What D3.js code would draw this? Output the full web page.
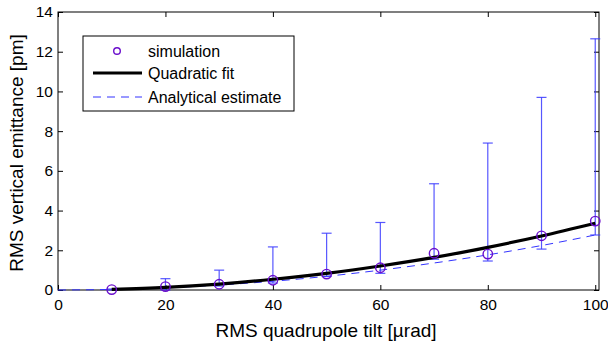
<!DOCTYPE html>
<html>
<head>
<meta charset="utf-8">
<script src="https://cdn.jsdelivr.net/npm/d3@7"></script>
<style>
  body { margin: 0; background: #fff; }
  text { font-family: "Liberation Sans", Arial, sans-serif; }
</style>
</head>
<body>
<div id="chart"></div>
<script>
// data
const simX = [10, 20, 30, 40, 50, 60, 70, 80, 90, 100];
const simY = [0.02, 0.17, 0.29, 0.49, 0.80, 1.12, 1.85, 1.81, 2.73, 3.47];
const simHi = [0.05, 0.57, 1.0, 2.17, 2.86, 3.4, 5.35, 7.4, 9.7, 12.65];
const simLo = [0.0, 0.0, 0.2, 0.35, 0.68, 0.84, 1.55, 1.46, 2.06, 2.77];

const fitX = [10, 20, 30, 40, 50, 60, 70, 80, 90, 100];
const fitY = [0.03, 0.13, 0.30, 0.54, 0.84, 1.21, 1.64, 2.15, 2.72, 3.36];

const estX = [0, 10, 20, 30, 40, 50, 60, 70, 80, 90, 100];
const estY = [0, 0.03, 0.11, 0.25, 0.44, 0.69, 1.0, 1.36, 1.77, 2.24, 2.77];

const xTicks = [0, 20, 40, 60, 80, 100];
const yTicks = [0, 2, 4, 6, 8, 10, 12, 14];

const legendNames = ["simulation", "Quadratic fit", "Analytical estimate"];

const W = 608, H = 347;
const margin = { top: 12, right: 9, bottom: 57, left: 58 };
const width = W - margin.left - margin.right;
const height = H - margin.top - margin.bottom;

const svg = d3.select("#chart").append("svg")
  .attr("width", W).attr("height", H);

const g = svg.append("g")
  .attr("transform", `translate(${margin.left},${margin.top})`);

const x = d3.scaleLinear().domain([0, 100.7]).range([0, width]);
const y = d3.scaleLinear().domain([0, 14]).range([height, 0]);

// axes (ticks inside, mirrored)
const ax = g.append("g").attr("class", "axes");
ax.append("g").attr("transform", `translate(0,${height})`)
  .call(d3.axisBottom(x).tickValues(xTicks).tickSizeInner(-5).tickSizeOuter(0).tickPadding(9));
ax.append("g").call(d3.axisTop(x).tickValues(xTicks).tickSizeInner(-5).tickSizeOuter(0).tickFormat(""));
ax.append("g")
  .call(d3.axisLeft(y).tickValues(yTicks).tickSizeInner(-5).tickSizeOuter(0).tickPadding(5));
ax.append("g").attr("transform", `translate(${width},0)`)
  .call(d3.axisRight(y).tickValues(yTicks).tickSizeInner(-5).tickSizeOuter(0).tickFormat(""));
ax.selectAll(".domain").remove();
ax.selectAll("line").attr("stroke", "#000");
ax.selectAll("text").attr("font-size", 15.5).attr("fill", "#000")
  .attr("font-family", "Liberation Sans, Arial, sans-serif");

g.append("rect").attr("width", width).attr("height", height)
  .attr("fill", "none").attr("stroke", "#000").attr("stroke-width", 1);

const line = d3.line().x(d => x(d[0])).y(d => y(d[1])).curve(d3.curveMonotoneX);

// analytical estimate
g.append("path").datum(estX.map((v, i) => [v, estY[i]]))
  .attr("d", line).attr("fill", "none")
  .attr("stroke", "#3333ff").attr("stroke-width", 1).attr("stroke-dasharray", "8,6");

// error bars
const eb = g.append("g").attr("stroke", "#3a3aff").attr("stroke-width", 1.2).attr("stroke-opacity", 0.85);
simX.forEach((v, i) => {
  const cx = x(v);
  eb.append("line").attr("x1", cx).attr("x2", cx).attr("y1", y(simLo[i])).attr("y2", y(simHi[i]));
  eb.append("line").attr("x1", cx - 5).attr("x2", cx + 5).attr("y1", y(simHi[i])).attr("y2", y(simHi[i]));
  eb.append("line").attr("x1", cx - 5).attr("x2", cx + 5).attr("y1", y(simLo[i])).attr("y2", y(simLo[i]));
});

// quadratic fit
g.append("path").datum(fitX.map((v, i) => [v, fitY[i]]))
  .attr("d", line).attr("fill", "none")
  .attr("stroke", "#000").attr("stroke-width", 3.2);

// simulation points
g.selectAll("circle.sim").data(simX).enter().append("circle")
  .attr("class", "sim")
  .attr("cx", d => x(d)).attr("cy", (d, i) => y(simY[i]))
  .attr("r", 4.7).attr("fill", "none")
  .attr("stroke", "#6a0dcc").attr("stroke-width", 1.4);

// legend
const lg = svg.append("g");
lg.append("rect").attr("x", 83).attr("y", 36).attr("width", 211).attr("height", 75)
  .attr("fill", "#fff").attr("stroke", "#000").attr("stroke-width", 1);
const rows = [51, 73, 97];
lg.append("circle").attr("cx", 117).attr("cy", rows[0]).attr("r", 3.3)
  .attr("fill", "none").attr("stroke", "#6a0dcc").attr("stroke-width", 1.4);
lg.append("line").attr("x1", 93).attr("x2", 142).attr("y1", rows[1]).attr("y2", rows[1])
  .attr("stroke", "#000").attr("stroke-width", 3.2);
lg.append("line").attr("x1", 93).attr("x2", 142).attr("y1", rows[2]).attr("y2", rows[2])
  .attr("stroke", "#3333ff").attr("stroke-width", 1).attr("stroke-dasharray", "8,6");
lg.selectAll("text").data(legendNames).enter().append("text")
  .attr("x", 148).attr("y", (d, i) => rows[i] + 5.5)
  .attr("font-size", 16).text(d => d);

// axis labels
svg.append("text").attr("x", 326).attr("y", 337)
  .attr("text-anchor", "middle").attr("font-size", 19)
  .text("RMS quadrupole tilt [\u00b5rad]");
svg.append("text")
  .attr("transform", `translate(23,${margin.top + height / 2 + 2}) rotate(-90)`)
  .attr("text-anchor", "middle").attr("font-size", 19)
  .text("RMS vertical emittance [pm]");
</script>
</body>
</html>
